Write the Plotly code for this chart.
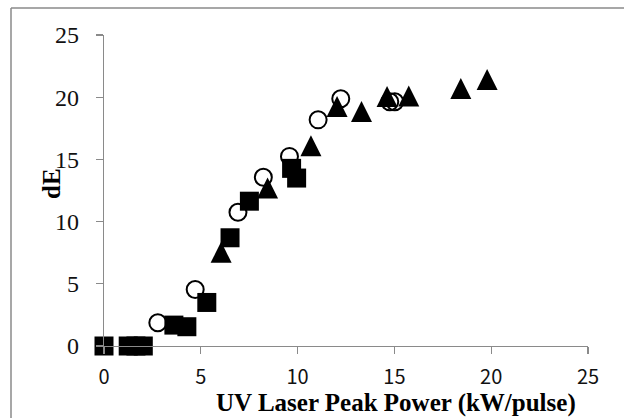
import plotly.graph_objects as go

# ---- data ----
circle_x = [2.78, 4.71, 6.92, 8.23, 9.58, 11.06, 12.23, 14.76, 15.02]
circle_y = [1.87, 4.54, 10.75, 13.56, 15.24, 18.18, 19.87, 19.63, 19.63]

square_x = [0, 1.25, 1.65, 2.03, 3.61, 4.28, 5.31, 6.51, 7.51, 9.69, 9.95]
square_y = [0, 0, 0, 0, 1.68, 1.55, 3.50, 8.70, 11.64, 14.28, 13.50]

triangle_x = [6.05, 8.45, 10.69, 12.04, 13.30, 14.62, 15.74, 18.43, 19.79]
triangle_y = [7.53, 12.70, 16.10, 19.25, 18.85, 20.05, 20.10, 20.70, 21.42]

x_ticks = [0, 5, 10, 15, 20, 25]
y_ticks = [0, 5, 10, 15, 20, 25]

# ---- layout geometry ----
W, H = 624, 418
ML, MR, MT, MB = 104, 36, 35, 72
PW, PH = W - ML - MR, H - MT - MB
Y_MAX = 25
TRI_SIZE = 21
# arrow-up marker has its apex on the point; shift its axis so the marker is centred
tri_shift = (TRI_SIZE / 2) / (PH / Y_MAX)

axis_col = "#8a8a8a"
serif = "Liberation Serif, Times New Roman, serif"


def px_x(p):
    return (p - ML) / PW


def px_y(p):
    return (MT + PH - p) / PH


fig = go.Figure()
fig.add_trace(go.Scatter(
    x=circle_x, y=circle_y, mode="markers", cliponaxis=False,
    marker=dict(symbol="circle-open", size=17, color="black",
                line=dict(width=2, color="black")),
    showlegend=False, hoverinfo="skip"))
fig.add_trace(go.Scatter(
    x=square_x, y=square_y, mode="markers", cliponaxis=False,
    marker=dict(symbol="square", size=19, color="black", line=dict(width=0)),
    showlegend=False, hoverinfo="skip"))
fig.add_trace(go.Scatter(
    x=triangle_x, y=triangle_y, mode="markers", cliponaxis=False, yaxis="y2",
    marker=dict(symbol="arrow-up", size=TRI_SIZE, color="black", line=dict(width=0)),
    showlegend=False, hoverinfo="skip"))

fig.update_layout(
    width=W, height=H, autosize=False,
    margin=dict(l=ML, r=MR, t=MT, b=MB, pad=0),
    paper_bgcolor="white", plot_bgcolor="white",
    xaxis=dict(range=[0, 25], tickvals=x_ticks, ticktext=[str(v) for v in x_ticks],
               showgrid=False, zeroline=False, showline=True, linecolor=axis_col,
               linewidth=1.3, ticks="outside", ticklen=7, tickcolor=axis_col, tickwidth=1.3,
               tickfont=dict(family="Noto Sans CJK JP", size=20, color="#111111"),
               ticklabelstandoff=6, fixedrange=True),
    yaxis=dict(range=[0, Y_MAX], tickvals=y_ticks, ticktext=[str(v) for v in y_ticks],
               showgrid=False, zeroline=False, showline=True, linecolor=axis_col,
               linewidth=1.3, ticks="outside", ticklen=7, tickcolor=axis_col, tickwidth=1.3,
               tickfont=dict(family=serif, size=24, color="#111111"),
               ticklabelstandoff=12, fixedrange=True),
    yaxis2=dict(range=[-tri_shift, Y_MAX - tri_shift], overlaying="y", visible=False,
                fixedrange=True),
    annotations=[
        dict(text="<b>dE</b>", x=px_x(51.5), y=px_y(183.5),
             xref="paper", yref="paper", showarrow=False, textangle=-90,
             font=dict(family=serif, size=25, color="black"),
             xanchor="center", yanchor="middle"),
        dict(text="<b>UV Laser Peak Power (kW/pulse)</b>", x=px_x(396),
             y=px_y(403), xref="paper", yref="paper", showarrow=False,
             font=dict(family=serif, size=25, color="black"),
             xanchor="center", yanchor="middle"),
    ],
    shapes=[
        # chart-area frame (top and left edges visible in the reference)
        dict(type="line", xref="paper", yref="paper",
             x0=px_x(11), x1=px_x(640), y0=px_y(8), y1=px_y(8),
             line=dict(color=axis_col, width=1.5), layer="above"),
        dict(type="line", xref="paper", yref="paper",
             x0=px_x(11), x1=px_x(11), y0=px_y(8), y1=px_y(440),
             line=dict(color=axis_col, width=1.5), layer="above"),
    ],
)

fig.write_html(
    "out.html",
    config={"displayModeBar": False, "staticPlot": True},
    post_script="document.body.style.margin='0';document.body.style.overflow='hidden';",
)
